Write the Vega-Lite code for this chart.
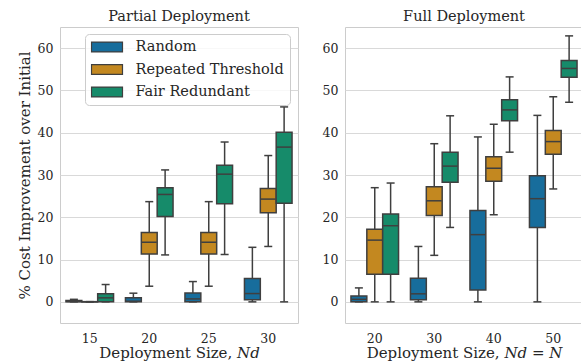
{
  "$schema": "https://vega.github.io/schema/vega-lite/v6.json",
  "autosize": {"type": "pad"},
  "padding": {"left": 16, "top": 8, "right": 0, "bottom": 0},
  "background": "white",
  "datasets": {
    "partial": [
      {"size": 15, "method": "Random", "min": 0, "q1": 0, "median": 0.1, "q3": 0.3, "max": 0.6},
      {"size": 15, "method": "Repeated Threshold", "min": 0, "q1": 0, "median": 0, "q3": 0.05, "max": 0.05},
      {"size": 15, "method": "Fair Redundant", "min": 0, "q1": 0, "median": 0.95, "q3": 1.9, "max": 4.1},
      {"size": 20, "method": "Random", "min": 0, "q1": 0, "median": 0.15, "q3": 0.95, "max": 2.05},
      {"size": 20, "method": "Repeated Threshold", "min": 3.7, "q1": 11.3, "median": 14.1, "q3": 16.4, "max": 23.7},
      {"size": 20, "method": "Fair Redundant", "min": 11.1, "q1": 20.2, "median": 25.4, "q3": 27.0, "max": 31.2},
      {"size": 25, "method": "Random", "min": 0, "q1": 0, "median": 0.7, "q3": 2.1, "max": 4.8},
      {"size": 25, "method": "Repeated Threshold", "min": 3.7, "q1": 11.3, "median": 14.1, "q3": 16.4, "max": 23.7},
      {"size": 25, "method": "Fair Redundant", "min": 11.2, "q1": 23.2, "median": 30.2, "q3": 32.3, "max": 37.8},
      {"size": 30, "method": "Random", "min": 0, "q1": 0.5, "median": 1.96, "q3": 5.5, "max": 12.9},
      {"size": 30, "method": "Repeated Threshold", "min": 13.1, "q1": 21.1, "median": 24.3, "q3": 26.8, "max": 34.6},
      {"size": 30, "method": "Fair Redundant", "min": 0, "q1": 23.3, "median": 36.6, "q3": 40.1, "max": 46.1}
    ],
    "full": [
      {"size": 20, "method": "Random", "min": 0, "q1": 0, "median": 0.6, "q3": 1.4, "max": 3.3},
      {"size": 20, "method": "Repeated Threshold", "min": 0, "q1": 6.5, "median": 14.6, "q3": 17.2, "max": 27.0},
      {"size": 20, "method": "Fair Redundant", "min": 0, "q1": 6.5, "median": 18.0, "q3": 20.8, "max": 28.1},
      {"size": 30, "method": "Random", "min": 0, "q1": 0.5, "median": 1.9, "q3": 5.6, "max": 13.1},
      {"size": 30, "method": "Repeated Threshold", "min": 11.0, "q1": 20.4, "median": 23.9, "q3": 27.2, "max": 37.4},
      {"size": 30, "method": "Fair Redundant", "min": 17.6, "q1": 28.3, "median": 32.1, "q3": 35.4, "max": 44.0},
      {"size": 40, "method": "Random", "min": 0, "q1": 2.8, "median": 15.9, "q3": 21.6, "max": 39.0},
      {"size": 40, "method": "Repeated Threshold", "min": 20.6, "q1": 28.5, "median": 31.6, "q3": 34.3, "max": 42.0},
      {"size": 40, "method": "Fair Redundant", "min": 35.4, "q1": 42.8, "median": 45.4, "q3": 47.8, "max": 53.2},
      {"size": 50, "method": "Random", "min": 0, "q1": 17.6, "median": 24.4, "q3": 29.8, "max": 44.1},
      {"size": 50, "method": "Repeated Threshold", "min": 26.7, "q1": 34.9, "median": 37.9, "q3": 40.5, "max": 48.5},
      {"size": 50, "method": "Fair Redundant", "min": 47.2, "q1": 53.1, "median": 55.2, "q3": 57.1, "max": 62.9}
    ]
  },
  "config": {
    "font": "DejaVu Serif",
    "view": {"stroke": "#cccccc", "strokeWidth": 1},
    "axis": {
      "domain": false, "ticks": false,
      "labelFont": "DejaVu Serif", "labelFontSize": 12.5, "labelColor": "#262626",
      "titleFont": "DejaVu Serif", "titleFontSize": 15, "titleFontWeight": "normal", "titleColor": "#262626",
      "gridColor": "#d9d9d9", "gridWidth": 1, "labelPadding": 7
    },
    "title": {"font": "DejaVu Serif", "fontSize": 14.5, "fontWeight": "normal", "color": "#262626", "offset": 3},
    "concat": {"spacing": 22}
  },
  "resolve": {
    "scale": {"x": "independent", "y": "independent", "xOffset": "independent", "color": "shared"},
    "legend": {"color": "independent"}
  },
  "hconcat": [
    {
      "width": 238, "height": 296,
      "title": "Partial Deployment",
      "data": {"name": "partial"},
      "encoding": {
        "x": {"field": "size", "type": "ordinal", "scale": {"paddingInner": 0, "paddingOuter": 0},
              "axis": {"labelAngle": 0, "grid": false, "labelPadding": 9, "titlePadding": 1}, "title": "Deployment Size, 𝑁𝑑"},
        "xOffset": {"field": "method", "type": "nominal", "sort": ["Random", "Repeated Threshold", "Fair Redundant"],
                    "scale": {"paddingInner": 0, "paddingOuter": 0.375}}
      },
      "layer": [
        {"mark": {"type": "rule", "color": "#3f3f3f", "strokeWidth": 1.5},
         "encoding": {"y": {"field": "min", "type": "quantitative", "scale": {"domain": [-5, 65], "nice": false, "zero": false},
                            "axis": {"values": [0, 10, 20, 30, 40, 50, 60], "grid": true, "titlePadding": 5},
                            "title": "% Cost Improvement over Initial"},
                      "y2": {"field": "max"}}},
        {"mark": {"type": "tick", "color": "#3f3f3f", "thickness": 1.5, "size": 8, "opacity": 1},
         "encoding": {"y": {"field": "min", "type": "quantitative"}}},
        {"mark": {"type": "tick", "color": "#3f3f3f", "thickness": 1.5, "size": 8, "opacity": 1},
         "encoding": {"y": {"field": "max", "type": "quantitative"}}},
        {"mark": {"type": "bar", "stroke": "#3f3f3f", "strokeWidth": 1.5, "opacity": 1},
         "encoding": {"y": {"field": "q1", "type": "quantitative"}, "y2": {"field": "q3"},
                      "color": {"field": "method", "type": "nominal",
                                "scale": {"domain": ["Random", "Repeated Threshold", "Fair Redundant"], "range": ["#176d9c", "#c38820", "#168b6a"]},
                                "legend": {"orient": "none", "legendX": 25, "legendY": 7, "title": null,
                                           "symbolType": "M-1,-0.32H1V0.32H-1Z", "symbolSize": 961,
                                           "symbolStrokeColor": "#3f3f3f", "symbolStrokeWidth": 1.2, "symbolOpacity": 1,
                                           "labelFont": "DejaVu Serif", "labelFontSize": 14.5, "labelColor": "#262626",
                                           "labelOffset": 12, "labelLimit": 300, "clipHeight": 15,
                                           "fillColor": "rgba(255,255,255,0.8)", "strokeColor": "#cccccc", "cornerRadius": 4,
                                           "padding": 5.5, "rowPadding": 6.5}}}},
        {"mark": {"type": "tick", "color": "#3f3f3f", "thickness": 1.5, "size": 15, "opacity": 1},
         "encoding": {"y": {"field": "median", "type": "quantitative"}}}
      ]
    },
    {
      "width": 238, "height": 296,
      "title": "Full Deployment",
      "data": {"name": "full"},
      "encoding": {
        "x": {"field": "size", "type": "ordinal", "scale": {"paddingInner": 0, "paddingOuter": 0},
              "axis": {"labelAngle": 0, "grid": false, "labelPadding": 9, "titlePadding": 1}, "title": "Deployment Size, 𝑁𝑑 = 𝑁"},
        "xOffset": {"field": "method", "type": "nominal", "sort": ["Random", "Repeated Threshold", "Fair Redundant"],
                    "scale": {"paddingInner": 0, "paddingOuter": 0.375}}
      },
      "layer": [
        {"mark": {"type": "rule", "color": "#3f3f3f", "strokeWidth": 1.5},
         "encoding": {"y": {"field": "min", "type": "quantitative", "scale": {"domain": [-5, 65], "nice": false, "zero": false},
                            "axis": {"values": [0, 10, 20, 30, 40, 50, 60], "grid": true}, "title": null},
                      "y2": {"field": "max"}}},
        {"mark": {"type": "tick", "color": "#3f3f3f", "thickness": 1.5, "size": 8, "opacity": 1},
         "encoding": {"y": {"field": "min", "type": "quantitative"}}},
        {"mark": {"type": "tick", "color": "#3f3f3f", "thickness": 1.5, "size": 8, "opacity": 1},
         "encoding": {"y": {"field": "max", "type": "quantitative"}}},
        {"mark": {"type": "bar", "stroke": "#3f3f3f", "strokeWidth": 1.5, "opacity": 1},
         "encoding": {"y": {"field": "q1", "type": "quantitative"}, "y2": {"field": "q3"},
                      "color": {"field": "method", "type": "nominal",
                                "scale": {"domain": ["Random", "Repeated Threshold", "Fair Redundant"], "range": ["#176d9c", "#c38820", "#168b6a"]},
                                "legend": null}}},
        {"mark": {"type": "tick", "color": "#3f3f3f", "thickness": 1.5, "size": 15, "opacity": 1},
         "encoding": {"y": {"field": "median", "type": "quantitative"}}}
      ]
    }
  ]
}
